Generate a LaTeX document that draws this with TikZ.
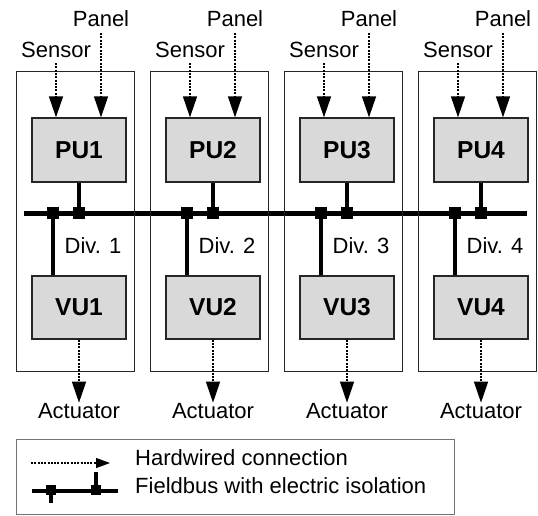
\documentclass[tikz,border=0pt]{standalone}
\usepackage{fontspec}
\setmainfont{Liberation Sans}
\usetikzlibrary{arrows.meta}
\begin{document}
\begin{tikzpicture}[x=1pt,y=-1pt,
  divbox/.style={draw=black!85, line width=1.3pt, minimum width=118pt, minimum height=300pt, anchor=north west, inner sep=0pt},
  unit/.style={draw=black!85, fill=black!15, line width=1.3pt, minimum width=94pt, minimum height=64pt, font=\fontsize{24.5}{26}\selectfont\bfseries, inner sep=0pt},
  lbl/.style={font=\fontsize{22}{24}\selectfont, inner sep=0pt, anchor=base},
  wire/.style={dash pattern=on 2pt off 1.3pt, line width=1.3pt, draw=black, -{Triangle[length=21pt,width=14pt]}},
  lwire/.style={dash pattern=on 2pt off 1.3pt, line width=1.1pt, draw=black, -{Triangle[length=14pt,width=10pt]}},
  bus/.style={line width=5pt},
  stem/.style={line width=3.5pt},
  tap/.style={fill=black, minimum size=11.5pt, inner sep=0pt},
  ltap/.style={fill=black, minimum size=10pt, inner sep=0pt},
]
\useasboundingbox (0,0) rectangle (538,515);
% bus
\coordinate (bL) at (24,213);
\coordinate (bR) at (527,213);
\draw[bus] (bL) -- (bR);
\foreach \i in {1,2,3,4}{
  \pgfmathsetmacro\ox{16+134*(\i-1)}
  \node[divbox] (D\i) at (\ox,71) {};
  \node[unit] (PU\i) at (\ox+63,150) {PU\i};
  \node[unit, minimum height=63pt] (VU\i) at (\ox+63,307.5) {VU\i};
  \node[lbl] (S\i) at (\ox+40,57) {Sensor};
  \node[lbl] (P\i) at (\ox+85,26) {Panel};
  \node[lbl] (A\i) at (\ox+63,418) {Actuator};
  \node[lbl] (L\i) at (\ox+77,253) {Div. \i};
  \draw[wire] ([yshift=-6pt]S\i.base) -- (S\i.base |- PU\i.north);
  \draw[wire] ([yshift=-7pt]P\i.base) -- (P\i.base |- PU\i.north);
  \draw[wire] (A\i.north |- VU\i.south) -- (A\i.north);
  \node[tap] (TV\i) at (\ox+37,213) {};
  \node[tap] (TP\i) at (\ox+63,213) {};
  \draw[stem] (PU\i.south -| TP\i) -- (TP\i.center);
  \draw[stem] (VU\i.north -| TV\i) -- (TV\i.center);
}
% legend
\node[draw=black!55, line width=1pt, minimum width=438pt, minimum height=75pt, anchor=north west, inner sep=0pt] (leg) at (16,439) {};
\coordinate (h1) at (31,463);
\coordinate (h2) at (110,463);
\draw[lwire] (h1) -- (h2);
\node[lbl, anchor=base west] (th) at (135,465) {Hardwired connection};
\coordinate (f1) at (32,491);
\coordinate (f2) at (118,491);
\draw[line width=4.5pt] (f1) -- (f2);
\node[ltap] (fa) at (51,490) {};
\node[ltap] (fb) at (96,490) {};
\coordinate (fa2) at (51,503);
\coordinate (fb2) at (96,472);
\draw[stem] (fa.center) -- (fa2);
\draw[stem] (fb.center) -- (fb2);
\node[lbl, anchor=base west] (tf) at (135,493) {Fieldbus with electric isolation};
\end{tikzpicture}
\end{document}
